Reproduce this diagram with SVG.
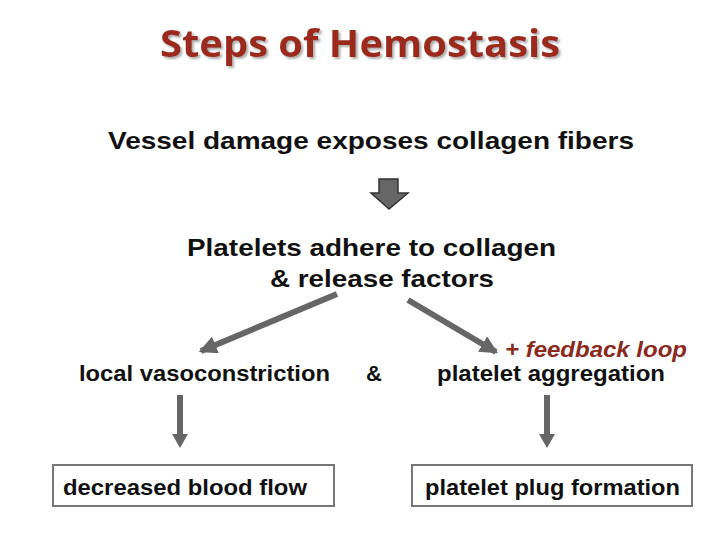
<svg xmlns="http://www.w3.org/2000/svg" width="720" height="540" viewBox="0 0 720 540">
<defs>
<marker id="ah" markerWidth="3" markerHeight="3" refX="2.6" refY="1.5" orient="auto" markerUnits="strokeWidth" viewBox="0 0 3 3">
<path d="M0,0 L3,1.5 L0,3 Z" fill="#666"/>
</marker>
<filter id="sh" x="-5%" y="-20%" width="110%" height="140%">
<feGaussianBlur in="SourceAlpha" stdDeviation="1"/>
<feOffset dx="2" dy="2" result="o"/>
<feFlood flood-color="#999" flood-opacity="0.8"/>
<feComposite in2="o" operator="in"/>
<feMerge><feMergeNode/><feMergeNode in="SourceGraphic"/></feMerge>
</filter>
</defs>
<style>
.t{font-family:"Liberation Sans",Arial,sans-serif;font-weight:bold;fill:#111;font-size:24px}
.s{font-size:22px}
.r{font-family:"Liberation Sans",Arial,sans-serif;font-weight:bold;font-style:italic;fill:#8b2a1e;font-size:22px}
.box{fill:#fff;stroke:#777;stroke-width:2}
.ln{stroke:#666;stroke-width:6;fill:none}
.va{fill:#666}
</style>
<rect width="720" height="540" fill="#fff"/>
<text x="160" y="57" font-family="'Open Sans',sans-serif" font-weight="bold" font-size="38" fill="#9c2b1f" textLength="400" lengthAdjust="spacingAndGlyphs" filter="url(#sh)">Steps of Hemostasis</text>

<g id="n1"><text class="t" x="108" y="149" textLength="526" lengthAdjust="spacingAndGlyphs">Vessel damage exposes collagen fibers</text></g>
<g id="n2"><text class="t" x="187" y="256" textLength="369" lengthAdjust="spacingAndGlyphs">Platelets adhere to collagen</text>
<text class="t" x="270" y="287" textLength="224" lengthAdjust="spacingAndGlyphs">&amp; release factors</text></g>
<g id="n3"><text class="t s" x="79" y="381" textLength="251" lengthAdjust="spacingAndGlyphs">local vasoconstriction</text></g>
<g id="amp"><text class="t s" x="366" y="381">&amp;</text></g>
<g id="n4"><text class="r" x="505" y="357" textLength="182" lengthAdjust="spacingAndGlyphs">+ feedback loop</text>
<text class="t s" x="437" y="381" textLength="228" lengthAdjust="spacingAndGlyphs">platelet aggregation</text></g>
<g id="n5"><rect class="box" x="53" y="465" width="281" height="41"/>
<text class="t s" x="63" y="495" textLength="244" lengthAdjust="spacingAndGlyphs">decreased blood flow</text></g>
<g id="n6"><rect class="box" x="412" y="465" width="280" height="41"/>
<text class="t s" x="425" y="495" textLength="255" lengthAdjust="spacingAndGlyphs">platelet plug formation</text></g>

<g id="connectors">
<path d="M379,179 H398 V193 H408 L389,209 L371,193 H379 Z" fill="#666" stroke="#333" stroke-width="1.5"/>
<line class="ln" x1="337" y1="294" x2="201" y2="351" marker-end="url(#ah)"/>
<line class="ln" x1="408" y1="300" x2="496" y2="352" marker-end="url(#ah)"/>
<rect class="va" x="177" y="395" width="6" height="40"/>
<path class="va" d="M172,434 H188 L180,448 Z"/>
<rect class="va" x="544" y="395" width="6" height="40"/>
<path class="va" d="M539,434 H555 L547,448 Z"/>
</g>
</svg>
